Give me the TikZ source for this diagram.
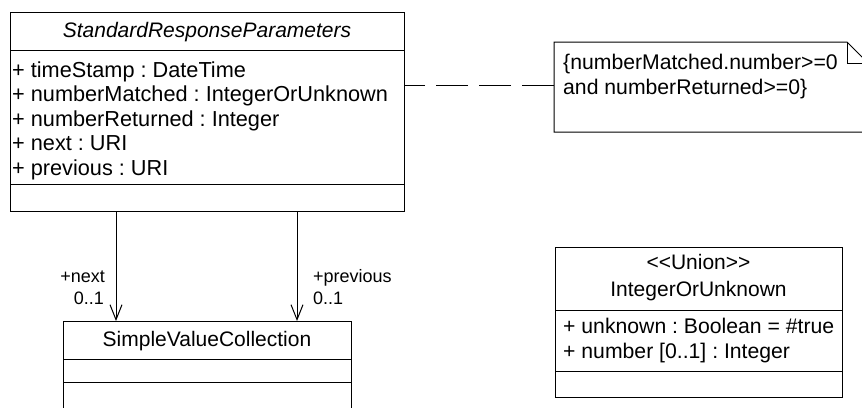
\documentclass[tikz,border=0pt]{standalone}
\usepackage{fontspec}
\setmainfont{Liberation Sans}[Ligatures=TeXOff]
\usetikzlibrary{arrows.meta}
\frenchspacing
\tikzset{
  umlbox/.style={draw, line width=1pt, inner sep=0pt, anchor=north west},
  sepline/.style={line width=1pt},
  txt/.style={inner sep=0pt, font=\fontsize{21.2}{25}\selectfont, anchor=base west},
  bigtxt/.style={txt, font=\fontsize{21.7}{25}\selectfont},
  ctxt/.style={inner sep=0pt, font=\fontsize{21}{25}\selectfont, anchor=base},
  lbl/.style={inner sep=0pt, font=\fontsize{18}{21}\selectfont},
  assoc/.style={line width=1pt, -{Straight Barb[length=15pt,width=12pt,line width=1pt]}},
  anchorline/.style={line width=1pt, dash pattern=on 32pt off 11pt}
}
\begin{document}
\begin{tikzpicture}[x=1pt,y=-1pt]
\useasboundingbox (0,0) rectangle (862,407);
\clip (0,0) rectangle (862,407);

% StandardResponseParameters
\node[umlbox, minimum width=394pt, minimum height=199pt] (srp) at (10,12) {};
\draw[sepline] (10,50) -- (404,50);
\draw[sepline] (10,184) -- (404,184);
\node[ctxt, font=\fontsize{21}{25}\selectfont\itshape] (srpt) at (207,37) {StandardResponseParameters};
\node[bigtxt] (a1) at (12,77) {+ timeStamp : DateTime};
\node[bigtxt] (a2) at (12,101.5) {+ numberMatched : IntegerOrUnknown};
\node[bigtxt] (a3) at (12,126) {+ numberReturned : Integer};
\node[bigtxt] (a4) at (12,150.5) {+ next : URI};
\node[bigtxt] (a5) at (12,175) {+ previous : URI};

% Note
\node[inner sep=0pt, minimum width=314pt, minimum height=90pt, anchor=north west] (note) at (554,42) {};
\draw[line width=1pt] (554,42) -- (847,42) -- (868,63) -- (868,132) -- (554,132) -- cycle;
\draw[line width=1pt] (847,42) -- (847,63) -- (868,63);
\node[txt] (n1) at (563,69) {\{numberMatched.number>=0};
\node[txt] (n2) at (563,94) {and numberReturned>=0\}};

\coordinate (dy) at (0,85);
\draw[anchorline] (note.west |- dy) -- (srp.east |- dy);

% SimpleValueCollection
\node[umlbox, minimum width=288pt, minimum height=110pt] (svc) at (63,321) {};
\draw[sepline] (63,359) -- (351,359);
\draw[sepline] (63,382) -- (351,382);
\node[ctxt] (svct) at (207,346) {SimpleValueCollection};

% Associations
\coordinate (xa) at (116,0);
\coordinate (xb) at (297,0);
\draw[assoc] (srp.south -| xa) -- (svc.north -| xa);
\draw[assoc] (srp.south -| xb) -- (svc.north -| xb);
\node[lbl, anchor=base east] (l1) at (105,282) {+next};
\node[lbl, anchor=base east] (l2) at (104,304) {0..1};
\node[lbl, anchor=base west] (l3) at (313,282) {+previous};
\node[lbl, anchor=base west] (l4) at (313,304) {0..1};

% IntegerOrUnknown
\node[umlbox, minimum width=287pt, minimum height=150pt] (iou) at (555,247) {};
\draw[sepline] (555,310) -- (842,310);
\draw[sepline] (555,371) -- (842,371);
\node[ctxt] (iou1) at (698.5,269) {<<Union>>};
\node[ctxt] (iou2) at (698.5,296) {IntegerOrUnknown};
\node[txt] (b1) at (563,333) {+ unknown : Boolean = \#true};
\node[txt] (b2) at (563,358) {+ number [0..1] : Integer};
\end{tikzpicture}
\end{document}
